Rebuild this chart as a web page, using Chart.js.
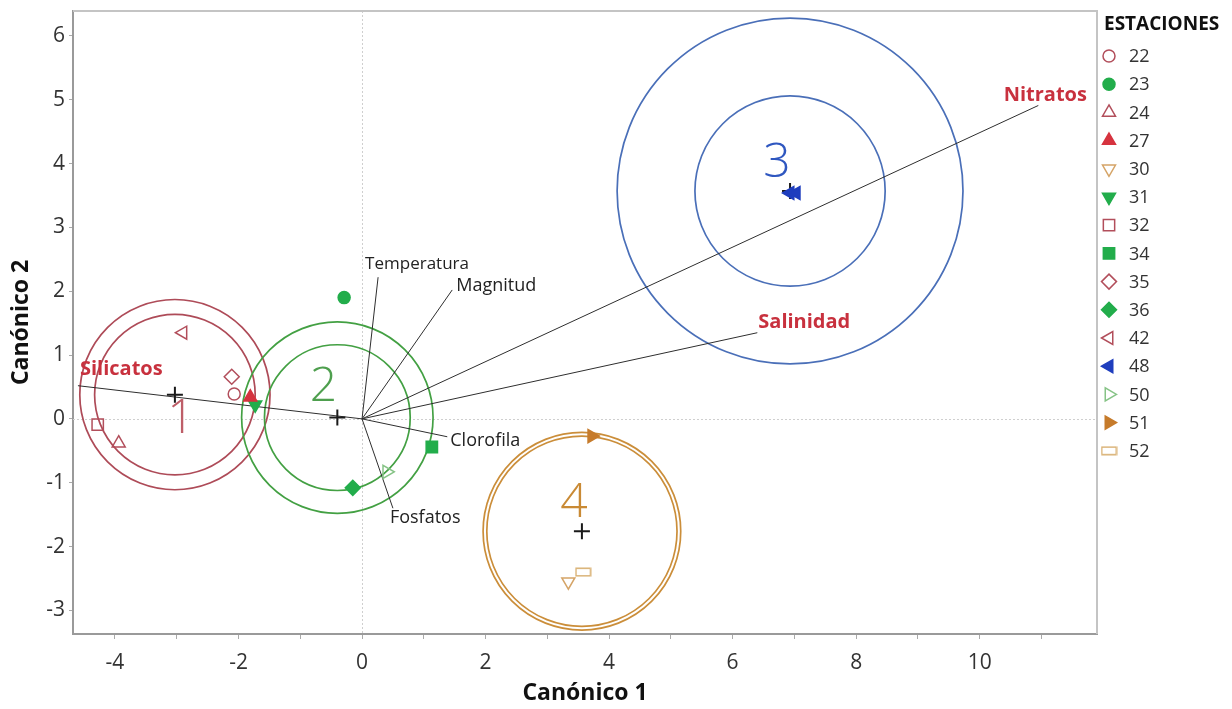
<!DOCTYPE html>
<html>
<head>
<meta charset="utf-8">
<script src="https://cdn.jsdelivr.net/npm/chart.js@4.4.0/dist/chart.umd.min.js"></script>
<style>
  html, body { margin: 0; padding: 0; background: #ffffff; }
  #wrap { width: 1232px; height: 709px; }
</style>
</head>
<body>
<div id="wrap"><canvas id="c" width="1232" height="709"></canvas></div>
<script>
const FONT = '"Open Sans", "Noto Sans", "DejaVu Sans", sans-serif';

// Canonical scores of each sampling station (station 48 has two samples)
const stations = ['22', '23', '24', '27', '30', '31', '32', '34', '35', '36', '42', '48', '50', '51', '52'];
const stationX = [[-2.07], [-0.29], [-3.94], [-1.81], [3.34], [-1.73], [-4.28], [1.13], [-2.11], [-0.15], [-2.90], [6.93, 7.03], [0.40], [3.72], [3.58]];
const stationY = [[0.39], [1.90], [-0.38], [0.34], [-2.55], [0.22], [-0.09], [-0.44], [0.66], [-1.08], [1.35], [3.54, 3.54], [-0.83], [-0.27], [-2.40]];

// Group means with their two circles (radii in canonical units)
const groups = ['1', '2', '3', '4'];
const groupX = [-3.03, -0.40, 6.93, 3.56];
const groupY = [0.38, 0.02, 3.57, -1.76];
const groupInnerR = [1.30, 1.18, 1.54, 1.54];
const groupOuterR = [1.54, 1.55, 2.80, 1.60];

// Biplot rays of the environmental variables
const variables = ['Silicatos', 'Temperatura', 'Magnitud', 'Nitratos', 'Salinidad', 'Clorofila', 'Fosfatos'];
const variableX = [-4.60, 0.26, 1.46, 10.95, 6.40, 1.38, 0.50];
const variableY = [0.52, 2.22, 2.02, 4.91, 1.35, -0.28, -1.40];

// Axis ticks
const xTicks = [-4, -3, -2, -1, 0, 1, 2, 3, 4, 5, 6, 7, 8, 9, 10, 11];
const xTickLabels = ['-4', '-2', '0', '2', '4', '6', '8', '10'];
const yTicks = [-3, -2, -1, 0, 1, 2, 3, 4, 5, 6];
const yTickLabels = ['-3', '-2', '-1', '0', '1', '2', '3', '4', '5', '6'];

// ---- styles ----
const ROSE = '#B24E5B', GREEN = '#22AD4B', RED = '#D6333F', TAN = '#D5A467',
      BLUE = '#1F3EBE', LGREEN = '#86C386', ORANGE = '#C67B2B', TAN2 = '#D9B174';

function wideRect(color) {
  const c = document.createElement('canvas');
  c.width = 17; c.height = 10;
  const g = c.getContext('2d');
  g.strokeStyle = color; g.lineWidth = 1.5;
  g.strokeRect(1.25, 1.25, 14.5, 7.5);
  return c;
}

const stationStyle = {
  '22': { shape: 'circle', r: 6, color: ROSE, filled: false },
  '23': { shape: 'circle', r: 6, color: GREEN, filled: true },
  '24': { shape: 'triangle', r: 7.5, color: ROSE, filled: false },
  '27': { shape: 'triangle', r: 7.5, color: RED, filled: true },
  '30': { shape: 'triangle', rot: 180, r: 7.5, color: TAN, filled: false },
  '31': { shape: 'triangle', rot: 180, r: 7.5, color: GREEN, filled: true },
  '32': { shape: 'rect', r: 8, color: ROSE, filled: false },
  '34': { shape: 'rect', r: 8, color: GREEN, filled: true },
  '35': { shape: 'rectRot', r: 7.5, color: ROSE, filled: false },
  '36': { shape: 'rectRot', r: 7.5, color: GREEN, filled: true },
  '42': { shape: 'triangle', rot: 270, r: 7.5, color: ROSE, filled: false },
  '48': { shape: 'triangle', rot: 270, r: 7.5, color: BLUE, filled: true },
  '50': { shape: 'triangle', rot: 90, r: 7.5, color: LGREEN, filled: false },
  '51': { shape: 'triangle', rot: 90, r: 7.5, color: ORANGE, filled: true },
  '52': { shape: wideRect(TAN2), r: 8, color: TAN2, filled: false }
};

const groupStyle = [
  { ring: '#AE4B58', text: '#BE5E68', dx: 6, dy: 25 },
  { ring: '#43A043', text: '#4E9F4E', dx: -14, dy: -30 },
  { ring: '#4A6FB8', text: '#2F57C0', dx: -13, dy: -28 },
  { ring: '#CB8E3A', text: '#C98A35', dx: -8, dy: -28 }
];

const variableStyle = {
  'Silicatos':   { color: '#C8313E', bold: true, size: 20, dx: 2, dy: -16, align: 'left' },
  'Temperatura': { color: '#222222', bold: false, size: 17, dx: -13, dy: -13, align: 'left' },
  'Magnitud':    { color: '#222222', bold: false, size: 18, dx: 4, dy: -4, align: 'left' },
  'Nitratos':    { color: '#C8313E', bold: true, size: 20, dx: 7, dy: -10, align: 'center' },
  'Salinidad':   { color: '#C8313E', bold: true, size: 20, dx: 1, dy: -10, align: 'left' },
  'Clorofila':   { color: '#222222', bold: false, size: 18, dx: 3, dy: 4, align: 'left' },
  'Fosfatos':    { color: '#222222', bold: false, size: 18, dx: -3, dy: 10, align: 'left' }
};

// ---- datasets ----
const datasets = [];

stations.forEach((s, i) => {
  const st = stationStyle[s];
  datasets.push({
    label: s,
    type: 'scatter',
    data: stationX[i].map((x, k) => ({ x: x, y: stationY[i][k] })),
    pointStyle: st.shape,
    rotation: st.rot || 0,
    pointRadius: st.r,
    pointHoverRadius: st.r,
    borderWidth: 1.5,
    borderColor: st.color,
    backgroundColor: st.filled ? st.color : 'rgba(0,0,0,0)',
    order: 0,
    isStation: true
  });
});

datasets.push({
  label: 'Centroides',
  type: 'scatter',
  data: groupX.map((x, i) => ({ x: x, y: groupY[i] })),
  pointStyle: 'cross',
  pointRadius: 8,
  borderWidth: 2,
  borderColor: '#1a1a1a',
  backgroundColor: '#1a1a1a',
  order: 1
});

variables.forEach((v, i) => {
  datasets.push({
    label: v,
    type: 'scatter',
    showLine: true,
    data: [{ x: 0, y: 0 }, { x: variableX[i], y: variableY[i] }],
    pointRadius: 0,
    borderColor: '#2e2e2e',
    borderWidth: 1,
    order: 2,
    isRay: true
  });
});

// ---- plugins ----
const backdrop = {
  id: 'backdrop',
  beforeDatasetsDraw(chart) {
    const { ctx, chartArea: a, scales: { x, y } } = chart;
    ctx.save();
    // dotted zero lines
    ctx.strokeStyle = '#cfcfcf'; ctx.lineWidth = 1; ctx.setLineDash([2, 2]);
    const x0 = Math.round(x.getPixelForValue(0)) + 0.5;
    const y0 = Math.round(y.getPixelForValue(0)) + 0.5;
    ctx.beginPath(); ctx.moveTo(x0, a.top); ctx.lineTo(x0, a.bottom); ctx.stroke();
    ctx.beginPath(); ctx.moveTo(a.left, y0); ctx.lineTo(a.right, y0); ctx.stroke();
    ctx.setLineDash([]);
    // top and right frame
    ctx.strokeStyle = '#c4c4c4'; ctx.lineWidth = 2;
    ctx.beginPath(); ctx.moveTo(a.left, a.top); ctx.lineTo(a.right, a.top); ctx.lineTo(a.right, a.bottom); ctx.stroke();
    // group circles
    ctx.beginPath(); ctx.rect(a.left, a.top, a.right - a.left, a.bottom - a.top); ctx.clip();
    groups.forEach((g, i) => {
      const cx = x.getPixelForValue(groupX[i]);
      const cy = y.getPixelForValue(groupY[i]);
      ctx.strokeStyle = groupStyle[i].ring;
      ctx.lineWidth = 1.7;
      [groupInnerR[i], groupOuterR[i]].forEach(r => {
        const rp = x.getPixelForValue(groupX[i] + r) - cx;
        ctx.beginPath(); ctx.arc(cx, cy, rp, 0, Math.PI * 2); ctx.stroke();
      });
      ctx.fillStyle = groupStyle[i].text;
      ctx.font = '300 48px ' + FONT;
      ctx.textAlign = 'center'; ctx.textBaseline = 'middle';
      ctx.fillText(g, cx + groupStyle[i].dx, cy + groupStyle[i].dy);
    });
    ctx.restore();
  },
  afterDatasetsDraw(chart) {
    const { ctx, scales: { x, y } } = chart;
    ctx.save();
    variables.forEach((v, i) => {
      const st = variableStyle[v];
      const px = x.getPixelForValue(variableX[i]);
      const py = y.getPixelForValue(variableY[i]);
      ctx.font = (st.bold ? 'bold ' : '') + st.size + 'px ' + FONT;
      ctx.fillStyle = st.color;
      ctx.textAlign = st.align; ctx.textBaseline = 'middle';
      ctx.fillText(v, px + st.dx, py + st.dy);
    });
    ctx.restore();
  }
};

const stationLegend = {
  id: 'stationLegend',
  afterDraw(chart) {
    const { ctx, chartArea: a } = chart;
    const left = a.right + 7;
    ctx.save();
    ctx.fillStyle = '#111111';
    ctx.font = 'bold 19px ' + FONT;
    ctx.textAlign = 'left'; ctx.textBaseline = 'middle';
    ctx.fillText('ESTACIONES', left, 25);
    chart.data.datasets.forEach((ds) => {
      if (!ds.isStation) return;
      const k = stations.indexOf(ds.label);
      const cy = 56 + k * 28.2;
      const cx = left + 5;
      ctx.strokeStyle = ds.borderColor;
      ctx.fillStyle = ds.backgroundColor;
      ctx.lineWidth = ds.borderWidth;
      Chart.helpers.drawPoint(ctx, {
        pointStyle: ds.pointStyle, rotation: ds.rotation,
        radius: ds.pointRadius, borderWidth: ds.borderWidth
      }, cx, cy);
      ctx.fillStyle = '#333333';
      ctx.font = '18px ' + FONT;
      ctx.fillText(ds.label, left + 25, cy + 1);
    });
    ctx.restore();
  }
};

new Chart(document.getElementById('c'), {
  type: 'scatter',
  data: { datasets },
  plugins: [backdrop, stationLegend],
  options: {
    responsive: false,
    devicePixelRatio: 1,
    animation: false,
    events: [],
    layout: { padding: { top: 11, right: 135, bottom: 0, left: 0 } },
    plugins: { legend: { display: false }, tooltip: { enabled: false } },
    scales: {
      x: {
        type: 'linear',
        min: -4.68, max: 11.90,
        afterFit(s) { s.height = 75; s.paddingLeft = 0; s.paddingRight = 0; },
        afterBuildTicks(s) { s.ticks = xTicks.map(v => ({ value: v })); },
        ticks: {
          autoSkip: false, maxRotation: 0, padding: 11,
          color: '#333333', font: { family: FONT, size: 21 },
          callback: v => (xTickLabels.includes(String(v)) ? String(v) : '')
        },
        grid: { drawOnChartArea: false, drawTicks: true, tickLength: 5, tickColor: '#aaaaaa', tickWidth: 1, color: 'rgba(0,0,0,0)' },
        border: { display: true, color: '#9a9a9a', width: 2 },
        title: { display: true, text: 'Canónico 1', color: '#111111', font: { family: FONT, size: 23, weight: 'bold' }, padding: { top: 0, bottom: 2 } }
      },
      y: {
        type: 'linear',
        min: -3.37, max: 6.39,
        afterFit(s) { s.width = 73; s.paddingTop = 0; s.paddingBottom = 0; },
        afterBuildTicks(s) { s.ticks = yTicks.map(v => ({ value: v })); },
        ticks: {
          autoSkip: false, padding: 4,
          color: '#333333', font: { family: FONT, size: 21 },
          callback: v => (yTickLabels.includes(String(v)) ? String(v) : '')
        },
        grid: { drawOnChartArea: false, drawTicks: true, tickLength: 4, tickColor: '#aaaaaa', tickWidth: 1, color: 'rgba(0,0,0,0)' },
        border: { display: true, color: '#9a9a9a', width: 2 },
        title: { display: true, text: 'Canónico 2', color: '#111111', font: { family: FONT, size: 23, weight: 'bold' }, padding: { top: 8, bottom: 0 } }
      }
    }
  }
});
</script>
</body>
</html>
